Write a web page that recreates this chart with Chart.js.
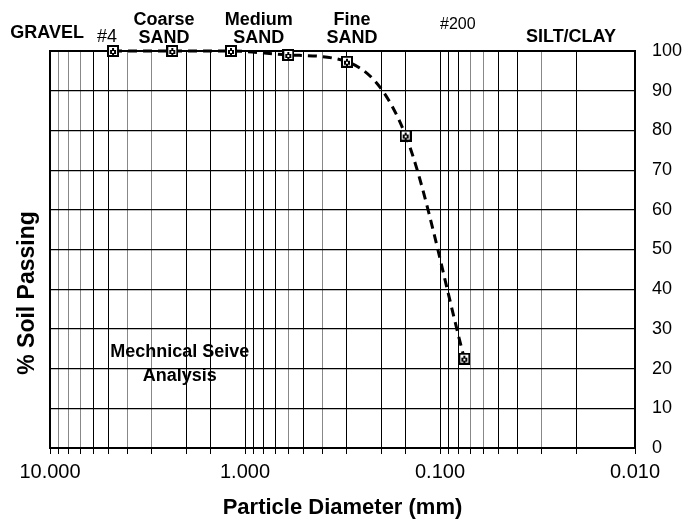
<!DOCTYPE html>
<html><head><meta charset="utf-8">
<script src="https://cdn.jsdelivr.net/npm/chart.js@4/dist/chart.umd.min.js"></script>
<style>html,body{margin:0;padding:0;background:#fff;}#wrap{width:684px;height:525px;position:relative;}</style>
</head><body><div id="wrap"><canvas id="c"></canvas></div>
<script>
// ---- data ----
const sieveSizesMm = [4.75, 2.36, 1.18, 0.6, 0.3, 0.15, 0.075];
const percentPassing = [100, 100, 100, 99, 97.3, 78.7, 22.5];
const xMajorTickLabels = ['10.000', '1.000', '0.100', '0.010'];
const yTickValues = [0, 10, 20, 30, 40, 50, 60, 70, 80, 90, 100];
const regionNames = ['GRAVEL', '#4', 'Coarse\nSAND', 'Medium\nSAND', 'Fine\nSAND', '#200', 'SILT/CLAY'];
const chartNote = ['Mechnical Seive', 'Analysis'];

// ---- layout / style (not data) ----
const FONT = "'Liberation Sans', Arial, Helvetica, sans-serif";
const regionAnchors = [10.35, 5.1, 2.6, 0.85, 0.283, 0.081, 0.0213];
const regionOffsets = [[-18], [-14], [-31, -13], [-31, -13], [-31, -13], [-26], [-14]];
const regionFonts = ['bold 18px ', '18px ', 'bold 18px ', 'bold 18px ', 'bold 18px ', '16px ', 'bold 18px '];
const noteAnchor = {x: 2.16, y: [24.2, 18.1]};
const lightGridValues = [9, 8, 7, 4, 3, 0.6, 0.4, 0.07, 0.06, 0.03];

function isDecade(v) { const l = Math.log10(v); return Math.abs(l - Math.round(l)) < 1e-6; }
function isLight(v) { return lightGridValues.some(g => Math.abs(g - v) / g < 1e-6); }

function makeMarker() {
  const c = document.createElement('canvas');
  c.width = 12; c.height = 12;
  const g = c.getContext('2d');
  g.fillStyle = '#000'; g.fillRect(0, 0, 12, 12);
  g.fillStyle = '#fff'; g.fillRect(2, 2, 8, 8);
  g.fillStyle = '#000';
  g.fillRect(3, 5, 2, 4); g.fillRect(5, 3, 2, 3); g.fillRect(7, 5, 2, 4); g.fillRect(5, 8, 2, 2);
  return c;
}
const marker = makeMarker();

const annot = {
  id: 'annot',
  beforeDatasetsDraw(chart) {
    const {ctx, chartArea: a} = chart;
    ctx.save();
    ctx.strokeStyle = '#000'; ctx.lineWidth = 2;
    ctx.strokeRect(a.left, a.top, a.right - a.left, a.bottom - a.top);
    ctx.restore();
  },
  afterDraw(chart) {
    const {ctx, chartArea: a, scales} = chart;
    const xs = scales.x, ys = scales.y;
    ctx.save();
    ctx.fillStyle = '#000';
    ctx.textAlign = 'center';
    ctx.textBaseline = 'middle';
    regionNames.forEach((name, i) => {
      const px = xs.getPixelForValue(regionAnchors[i]);
      ctx.font = regionFonts[i] + FONT;
      name.split('\n').forEach((ln, j) => {
        ctx.fillText(ln, px, a.top + regionOffsets[i][j]);
      });
    });
    ctx.font = 'bold 18px ' + FONT;
    chartNote.forEach((t, j) => {
      ctx.fillText(t, xs.getPixelForValue(noteAnchor.x), ys.getPixelForValue(noteAnchor.y[j]));
    });
    // y axis title on the left
    ctx.translate(28, 293);
    ctx.rotate(-Math.PI / 2);
    ctx.font = 'bold 23px ' + FONT;
    ctx.fillText('% Soil Passing', 0, 0);
    ctx.restore();
  }
};

new Chart(document.getElementById('c'), {
  type: 'line',
  data: {
    datasets: [{
      data: sieveSizesMm.map((s, i) => ({x: s, y: percentPassing[i]})),
      borderColor: '#000',
      borderWidth: 3,
      borderDash: [9, 6],
      cubicInterpolationMode: 'monotone',
      pointStyle: marker,
      pointRadius: 6,
      clip: false,
      yAxisID: 'y'
    }]
  },
  options: {
    responsive: true,
    maintainAspectRatio: false,
    animation: false,
    devicePixelRatio: 1,
    layout: {padding: {top: 51, left: 0, right: 0, bottom: 0}},
    plugins: {legend: {display: false}, tooltip: {enabled: false}},
    scales: {
      x: {
        type: 'logarithmic',
        position: 'bottom',
        reverse: true,
        min: 0.01,
        max: 10,
        afterFit: s => { s.height = 77; },
        ticks: {
          autoSkip: false, maxRotation: 0, minRotation: 0, padding: 6,
          color: '#000', font: {family: FONT, size: 20},
          callback: v => {
            if (!isDecade(v)) return '';
            const idx = Math.round(1 - Math.log10(v));
            return xMajorTickLabels[idx];
          }
        },
        grid: {
          color: c => (c.tick && isLight(c.tick.value)) ? '#888' : '#000',
          lineWidth: 1, drawTicks: true, tickLength: 6, tickColor: '#000'
        },
        border: {color: '#000', width: 2},
        title: {display: true, text: 'Particle Diameter (mm)', color: '#000',
                font: {family: FONT, size: 22, weight: 'bold'}, padding: {top: 0, bottom: 4}}
      },
      y: {
        type: 'linear', position: 'right', min: 0, max: 100,
        afterFit: s => { s.width = 49; },
        afterBuildTicks: s => { s.ticks = yTickValues.map(v => ({value: v})); },
        ticks: {padding: 17, color: '#000', font: {family: FONT, size: 18}},
        grid: {color: '#000', lineWidth: 1.2, drawTicks: false},
        border: {color: '#000', width: 2}
      },
      yL: {
        type: 'linear', position: 'left', min: 0, max: 100,
        afterFit: s => { s.width = 50; },
        ticks: {display: false},
        grid: {display: false, drawTicks: false},
        border: {display: true, color: '#000', width: 2}
      }
    }
  },
  plugins: [annot]
});
</script>
</body></html>
